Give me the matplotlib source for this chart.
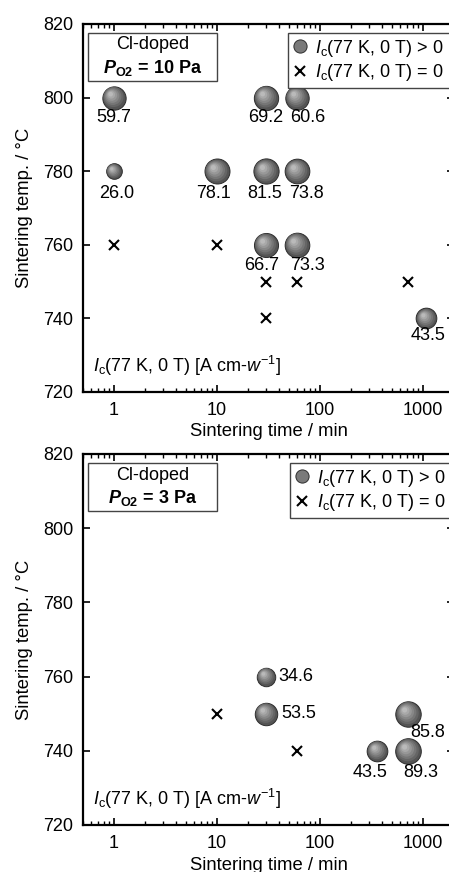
import numpy as np
import matplotlib
matplotlib.use('Agg')
import matplotlib.pyplot as plt
from matplotlib.patches import Rectangle
from matplotlib.lines import Line2D
from matplotlib.transforms import offset_copy

plt.rcParams['font.family'] = ['Liberation Sans', 'DejaVu Sans']
plt.rcParams['mathtext.fontset'] = 'custom'
plt.rcParams['mathtext.rm'] = 'Liberation Sans'
plt.rcParams['mathtext.it'] = 'Liberation Sans:italic'
plt.rcParams['mathtext.bf'] = 'Liberation Sans:bold'
plt.rcParams['mathtext.bfit'] = 'Liberation Sans:bold:italic'
plt.rcParams['font.size'] = 13

# P_O2 = 10 Pa: samples with current (time, temp, Ic) and without
t10_on = [1, 30, 60, 1, 10, 30, 60, 30, 60, 1080]
T10_on = [800, 800, 800, 780, 780, 780, 780, 760, 760, 740]
ic10 = [59.7, 69.2, 60.6, 26.0, 78.1, 81.5, 73.8, 66.7, 73.3, 43.5]
t10_off = [1, 10, 30, 60, 720, 30]
T10_off = [760, 760, 750, 750, 750, 740]

# P_O2 = 3 Pa
t3_on = [30, 30, 720, 360, 720]
T3_on = [760, 750, 750, 740, 740]
ic3 = [34.6, 53.5, 85.8, 43.5, 89.3]
t3_off = [10, 60]
T3_off = [750, 740]

# label offsets in pixels (dx, dy, ha)
lab10 = [(0, -20, 'center'), (0, -20, 'center'), (11, -20, 'center'),
         (3, -22, 'center'), (-4, -22, 'center'), (-1, -22, 'center'),
         (9, -22, 'center'), (-5, -21, 'center'), (10, -21, 'center'),
         (2, -17, 'center')]
lab3 = [(12, 0, 'left'), (15, 0, 'left'), (19, -19, 'center'),
        (-7, -22, 'center'), (12, -22, 'center')]

PX = 0.72  # points per pixel at dpi 100

fig = plt.figure(figsize=(4.49, 8.72), dpi=100)
ax1 = fig.add_axes([0.1849, 0.5505, 0.8263, 0.4220])
ax2 = fig.add_axes([0.1849, 0.0539, 0.8263, 0.4255])


def diam(v):
    # marker diameter in points, saturating with Ic
    return 27 * (1 - np.exp(-v / 30.0)) * PX


def sphere(ax, x, y, d):
    n = 7
    for i in range(n):
        f = 1 - 0.8 * i / (n - 1)
        shade = 0.33 + 0.40 * i / (n - 1)
        off = (1 - f) * d * 0.18
        tr = offset_copy(ax.transData, fig=fig, x=-off, y=off, units='points')
        ax.scatter([x], [y], s=(d * f) ** 2, color=str(shade),
                   edgecolors='#2e2e2e' if i == 0 else 'none',
                   linewidths=0.7, transform=tr, zorder=3 + i * 0.1)


def panel(ax, t_on, T_on, ic, t_off, T_off, labs, p_text, leg_x0):
    ax.set_xscale('log')
    ax.set_xlim(0.5, 2000)
    ax.set_ylim(720, 820)
    for x, y, v, (dx, dy, ha) in zip(t_on, T_on, ic, labs):
        sphere(ax, x, y, diam(v))
        ax.annotate(f'{v:.1f}', (x, y), xytext=(dx * PX, dy * PX),
                    textcoords='offset points', ha=ha, va='center',
                    fontsize=13, zorder=5)
    ax.plot(t_off, T_off, 'x', color='black', ms=7.5, mew=1.5, zorder=4)

    ax.set_xticks([1, 10, 100, 1000], ['1', '10', '100', '1000'])
    ax.set_yticks([720, 740, 760, 780, 800, 820])
    ax.tick_params(which='both', direction='in', top=True, right=True)
    ax.tick_params(which='major', length=5, width=1.2, pad=7)
    ax.tick_params(which='minor', length=3, width=1.0)
    ax.tick_params(axis='y', which='minor', left=False, right=False)
    for sp in ax.spines.values():
        sp.set_linewidth(1.6)

    ax.set_xlabel('Sintering time / min', fontsize=13.3)
    ax.set_ylabel('Sintering temp. / °C', fontsize=13.3)
    ax.xaxis.set_label_coords(0.5, -0.085)
    ax.yaxis.set_label_coords(-0.135, 0.5)

    # sample condition box
    ax.add_patch(Rectangle((0.0135, 0.845), 0.348, 0.131, transform=ax.transAxes,
                           fill=False, edgecolor='#444444', lw=1.0, zorder=6))
    ax.text(0.187, 0.943, 'Cl-doped', transform=ax.transAxes,
            ha='center', va='center', fontsize=13)
    ax.text(0.187, 0.880, p_text, transform=ax.transAxes,
            ha='center', va='center', fontsize=13, fontweight='bold')

    ax.text(0.027, 0.07, r'$\mathit{I}_\mathrm{c}$(77 K, 0 T) [A cm-$\mathit{w}^{-1}$]',
            transform=ax.transAxes, ha='left', va='center', fontsize=13)

    handles = [
        Line2D([], [], ls='none', marker='o', ms=9.5, mfc='#7a7a7a', mec='#2e2e2e', mew=0.7),
        Line2D([], [], ls='none', marker='x', ms=7.5, mew=1.5, color='black'),
    ]
    labels = [r'$\mathit{I}_\mathrm{c}$(77 K, 0 T) > 0',
              r'$\mathit{I}_\mathrm{c}$(77 K, 0 T) = 0']
    leg = ax.legend(handles, labels, loc='upper left',
                    bbox_to_anchor=(leg_x0, 0.9755, 0.48, 0.0),
                    mode='expand', borderaxespad=0, fancybox=False,
                    framealpha=1, edgecolor='#444444', fontsize=13,
                    handlelength=0.8, handletextpad=0.45, labelspacing=0.2,
                    borderpad=0.25)
    leg.get_frame().set_linewidth(1.0)
    leg.set_zorder(7)


panel(ax1, t10_on, T10_on, ic10, t10_off, T10_off, lab10,
      r'$\mathbfit{P}_\mathbf{O2}$ = 10 Pa', 0.5526)
panel(ax2, t3_on, T3_on, ic3, t3_off, T3_off, lab3,
      r'$\mathbfit{P}_\mathbf{O2}$ = 3 Pa', 0.558)

fig.savefig('out.png', dpi=100)
